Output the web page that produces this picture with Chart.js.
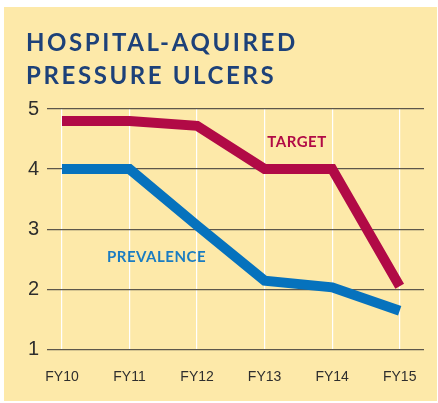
<!DOCTYPE html>
<html>
<head>
<meta charset="utf-8">
<script src="https://cdn.jsdelivr.net/npm/chart.js@4"></script>
<style>
  html, body { margin: 0; padding: 0; background: #fff; }
  #wrap { position: relative; width: 438px; height: 403px; overflow: hidden; }
  #panel { position: absolute; left: 4px; top: 7px; width: 433px; height: 394px; background: #fde9a9; }
  #title { position: absolute; left: 26px; top: 25px; font-family: Lato, sans-serif; font-weight: 700;
           font-size: 24px; line-height: 33px; letter-spacing: 2.6px; color: #1d4179; z-index: 2; }
  #chart { position: absolute; left: 0; top: 0; z-index: 1; }
</style>
</head>
<body>
<div id="wrap">
  <div id="panel"></div>
  <div id="title">HOSPITAL-AQUIRED<br>PRESSURE ULCERS</div>
  <canvas id="chart" width="438" height="414"></canvas>
</div>
<script>
const years = ['FY10', 'FY11', 'FY12', 'FY13', 'FY14', 'FY15'];
const target = [4.8, 4.8, 4.72, 4.0, 4.0, 2.05];
const prevalence = [4.0, 4.0, 3.06, 2.14, 2.03, 1.64];
const yTicks = [1, 2, 3, 4, 5];

const red = '#b10a46';
const blue = '#0672bd';

function points(values) {
    return values.map((v, i) => ({ x: i, y: v }));
}

// series names written next to the lines
const seriesLabels = {
    id: 'seriesLabels',
    afterDatasetsDraw(chart) {
        const ctx = chart.ctx;
        const x = chart.scales.x;
        const y = chart.scales.y;
        ctx.save();
        ctx.font = 'bold 15px Lato, sans-serif';
        ctx.textAlign = 'center';
        ctx.textBaseline = 'middle';
        ctx.letterSpacing = '0.5px';
        ctx.fillStyle = red;
        ctx.fillText('TARGET', x.getPixelForValue(3.48), y.getPixelForValue(4.44));
        ctx.fillStyle = '#1a7cc2';
        ctx.fillText('PREVALENCE', x.getPixelForValue(1.4), y.getPixelForValue(2.54));
        ctx.restore();
    }
};

new Chart(document.getElementById('chart'), {
    type: 'line',
    data: {
        datasets: [{
            label: 'TARGET',
            data: points(target),
            borderColor: red,
            borderWidth: 10,
            pointRadius: 0,
            borderJoinStyle: 'miter',
            borderCapStyle: 'butt',
            tension: 0,
            clip: false
        }, {
            label: 'PREVALENCE',
            data: points(prevalence),
            borderColor: blue,
            borderWidth: 10,
            pointRadius: 0,
            borderJoinStyle: 'miter',
            borderCapStyle: 'butt',
            tension: 0,
            clip: false
        }]
    },
    options: {
        responsive: false,
        animation: false,
        layout: { padding: { top: 109, right: 14, bottom: 8, left: 20 } },
        plugins: { legend: { display: false }, tooltip: { enabled: false } },
        scales: {
            x: {
                type: 'linear',
                min: -0.22,
                max: 5.36,
                afterBuildTicks(axis) {
                    axis.ticks = years.map((_, i) => ({ value: i }));
                },
                ticks: {
                    callback: v => years[v],
                    color: '#2e2e2e',
                    font: { family: '"Liberation Sans", sans-serif', size: 14 },
                    padding: 20
                },
                grid: { color: '#ffffff', lineWidth: 1.2, drawTicks: false },
                border: { display: false }
            },
            y: {
                min: 1,
                max: 5,
                afterBuildTicks(axis) {
                    axis.ticks = yTicks.map(v => ({ value: v }));
                },
                ticks: {
                    color: '#2e2e2e',
                    font: { family: '"Liberation Sans", sans-serif', size: 20 },
                    padding: 8
                },
                grid: { color: '#5d574b', lineWidth: 1.2, drawTicks: false },
                border: { display: false }
            }
        }
    },
    plugins: [seriesLabels]
});
</script>
</body>
</html>
